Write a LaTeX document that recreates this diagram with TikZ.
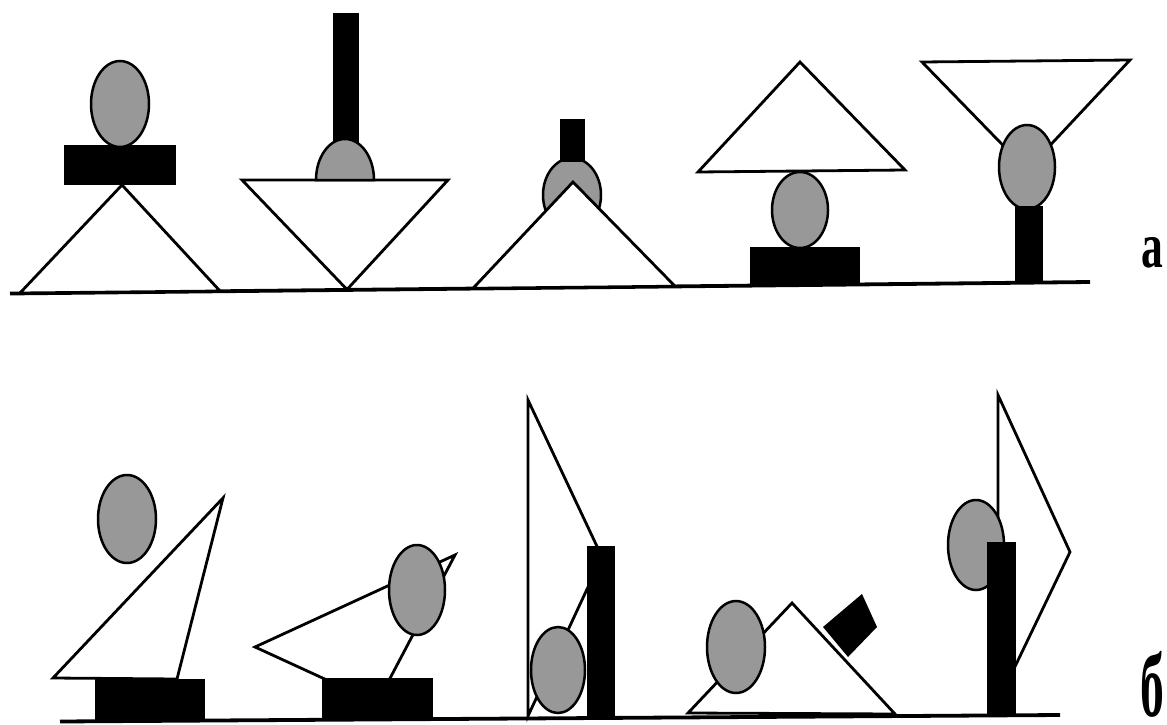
\documentclass[tikz,border=0pt]{standalone}
\usepackage{fontspec}
\newfontfamily\cyrfont{Liberation Serif}
\definecolor{dotgray}{RGB}{152,152,152}
\begin{document}
\begin{tikzpicture}[x=1pt,y=-1pt,
  tri/.style={line width=2.8pt, line join=miter, draw=black, fill=white},
  blk/.style={fill=black},
  ball/.style={fill=dotgray, draw=black, line width=2.5pt},
  ground/.style={line width=3.8pt},
  lbl/.style={anchor=base west, inner sep=0pt, xscale=0.68,
    font=\cyrfont\bfseries\fontsize{64}{64}\selectfont}]
\useasboundingbox[fill=white] (0,0) rectangle (1167,725);

% ---------- row a ----------
\draw[ground] (10,293.5) -- (1090,282);
% figure a1
\draw[tri] (20,293) -- (122,185) -- (220,291) -- cycle;
\fill[blk] (64,145) rectangle (176,185);
\draw[ball] (120,104) ellipse [x radius=29, y radius=43];
% figure a2
\draw[tri] (242,180) -- (448,180) -- (347,289.5) -- cycle;
\fill[blk] (333,13) rectangle (359,150);
\draw[ball] (316,180) arc[start angle=180, end angle=360, x radius=29, y radius=41] -- cycle;
% figure a3
\draw[ball] (572,195) ellipse [x radius=29, y radius=37];
\fill[blk] (560,119) rectangle (585,162);
\draw[tri] (473,288.3) -- (573,182) -- (675,286.2) -- cycle;
% figure a4
\draw[tri] (698,172) -- (800,62) -- (905,170) -- cycle;
\draw[ball] (800,210) ellipse [x radius=28, y radius=38];
\fill[blk] (750,247) rectangle (860,285.5);
% figure a5
\draw[tri] (922,62) -- (1130,60) -- (1027,170) -- cycle;
\draw[ball] (1027,167) ellipse [x radius=28, y radius=42];
\fill[blk] (1015,206) rectangle (1043,283);
\node[lbl] (la) at (1141,267) {а};

% ---------- row b ----------
\draw[ground] (60,721.5) -- (1060,715);
% figure b1
\draw[ball] (127,519) ellipse [x radius=29, y radius=44];
\draw[tri] (53,678) -- (223,498) -- (177,679) -- cycle;
\fill[blk] (95,679) rectangle (205,721);
% figure b2
\draw[tri] (255,647) -- (455,555) -- (377,703) -- cycle;
\draw[ball] (417,590) ellipse [x radius=28, y radius=45];
\fill[blk] (322,678) rectangle (433,720);
% figure b3
\draw[tri] (528,400) -- (602,557) -- (528,716) -- cycle;
\draw[ball] (558,670) ellipse [x radius=27, y radius=43];
\fill[blk] (587,546) rectangle (615,718);
% figure b4
\draw[tri] (688,713) -- (792,603) -- (895,714) -- cycle;
\draw[ball] (736,647) ellipse [x radius=29, y radius=46];
\fill[blk] (823,627) -- (862,594) -- (877,627) -- (848,657) -- cycle;
% figure b5
\draw[tri] (998,395) -- (1070,552) -- (998,702) -- cycle;
\draw[ball] (976,545) ellipse [x radius=28, y radius=45];
\fill[blk] (987,542) rectangle (1016,714);
\node[lbl, yscale=1.3, font=\cyrfont\bfseries\fontsize{70}{70}\selectfont] (lb) at (1140,716) {б};
\end{tikzpicture}
\end{document}
